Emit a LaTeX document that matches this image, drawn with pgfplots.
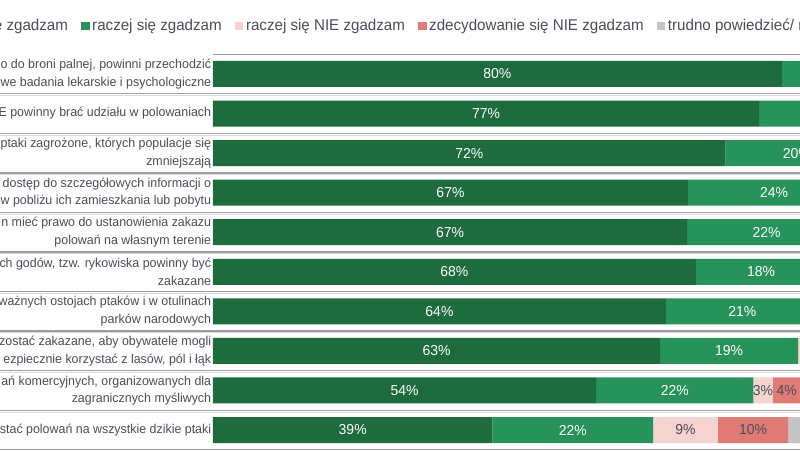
\documentclass[border=0pt]{standalone}
\usepackage{pgfplots}
\pgfplotsset{compat=1.18}
\usepackage{pgfplotstable}
\usepackage{fontspec}
\setmainfont{Liberation Sans}[FakeStretch=0.97]
\definecolor{dkgreen}{HTML}{1E6B3E}
\definecolor{ltgreen}{HTML}{27935A}
\definecolor{pinkc}{HTML}{F4D3D1}
\definecolor{redc}{HTML}{E07A74}
\definecolor{grayc}{HTML}{C4C4C4}
\definecolor{txt}{HTML}{4A4D59}
\newcommand{\lblfont}{\fontsize{9.6pt}{13.2pt}\selectfont}
\newcommand{\pctfont}{\fontsize{10.8pt}{13pt}\selectfont}
\newcommand{\legfont}{\fontsize{11.7pt}{14pt}\selectfont}

\pgfplotstableread{
y a al b bl c cl d dl e el
1 39.3 39 22.6 22 9.1 9 9.9 10 19.1 19
2 53.9 54 22.1 22 2.7 3 4.0 4 17.3 17
3 62.9 63 19.4 19 8 8 5 5 4.7 5
4 63.7 64 21.5 21 6 6 4 4 4.8 5
5 67.9 68 18.4 18 5 5 4 4 4.7 5
6 66.7 67 22.3 22 5 5 3 3 3 3
7 66.8 67 24.2 24 4 4 2 2 3 3
8 72.1 72 20 20 4 4 2 2 1.9 2
9 76.8 77 17 17 3 3 1 1 2.2 2
10 80.0 80 15 15 2 2 1 1 2 2
}\data

\begin{document}
\begin{tikzpicture}
\path[use as bounding box] (0,0) rectangle (600pt,337.5pt);
\clip (0,0) rectangle (600pt,337.5pt);
\begin{axis}[
  at={(159.75pt,0.15pt)}, anchor=south west,
  scale only axis, width=533.25pt, height=296.7pt,
  xmin=0, xmax=100, ymin=0.5, ymax=10.5,
  xbar stacked, bar width=19.5pt,
  axis line style={draw=none},
  xtick=\empty,
  ytick={1,...,10},
  yticklabels={
    {stać polowań na wszystkie dzikie ptaki},
    {ań komercyjnych, organizowanych dla\\zagranicznych myśliwych},
    {zostać zakazane, aby obywatele mogli\\ezpiecznie korzystać z lasów, pól i łąk},
    {ważnych ostojach ptaków i w otulinach\\parków narodowych},
    {ch godów, tzw. rykowiska powinny być\\zakazane},
    {n mieć prawo do ustanowienia zakazu\\polowań na własnym terenie},
    {dostęp do szczegółowych informacji o\\w pobliżu ich zamieszkania lub pobytu},
    {ptaki zagrożone, których populacje się\\zmniejszają},
    {E powinny brać udziału w polowaniach},
    {o do broni palnej, powinni przechodzić\\we badania lekarskie i psychologiczne}},
  major tick length=0pt,
  yticklabel style={align=right, font=\lblfont, text=txt, inner xsep=1.2pt},
  clip=false,
  point meta=explicit symbolic,
  nodes near coords={\pgfplotspointmeta\%},
  every node near coord/.append style={font=\pctfont},
  legend image code/.code={\fill[#1] (0pt,-3.2pt) rectangle (6.2pt,3.2pt);},
  legend style={at={(-0.480,1.0713)}, anchor=west, draw=none, fill=none,
    inner sep=0pt, font=\legfont, text=txt, legend columns=-1,
    /tikz/every even column/.append style={column sep=8pt}},
  legend cell align=left,
]
\addplot[fill=dkgreen, draw=none, every node near coord/.append style={text=white}] table[x=a, y=y, meta=al]{\data};
\addplot[fill=ltgreen, draw=none, every node near coord/.append style={text=white}] table[x=b, y=y, meta=bl]{\data};
\addplot[fill=pinkc, draw=none, every node near coord/.append style={text=txt}] table[x=c, y=y, meta=cl]{\data};
\addplot[fill=redc, draw=none, every node near coord/.append style={text=txt}] table[x=d, y=y, meta=dl]{\data};
\addplot[fill=grayc, draw=none, every node near coord/.append style={text=txt}] table[x=e, y=y, meta=el]{\data};
\legend{zdecydowanie się zgadzam, raczej się zgadzam, raczej się NIE zgadzam, zdecydowanie się NIE zgadzam, trudno powiedzieć/ nie wiem}
\pgfplotsinvokeforeach{0.5,1.5,2.5,3.5,4.5,5.5,6.5,7.5,8.5,9.5}{
  \draw[black!38, line width=1pt] (axis cs:-31,#1) -- (axis cs:100,#1);
  \draw[black!15, line width=0.6pt] (axis cs:-31,#1-0.045) -- (axis cs:100,#1-0.045);
}
\draw[black!38, line width=1pt] (axis cs:0,10.5) -- (axis cs:100,10.5);
\end{axis}
\end{tikzpicture}
\end{document}
